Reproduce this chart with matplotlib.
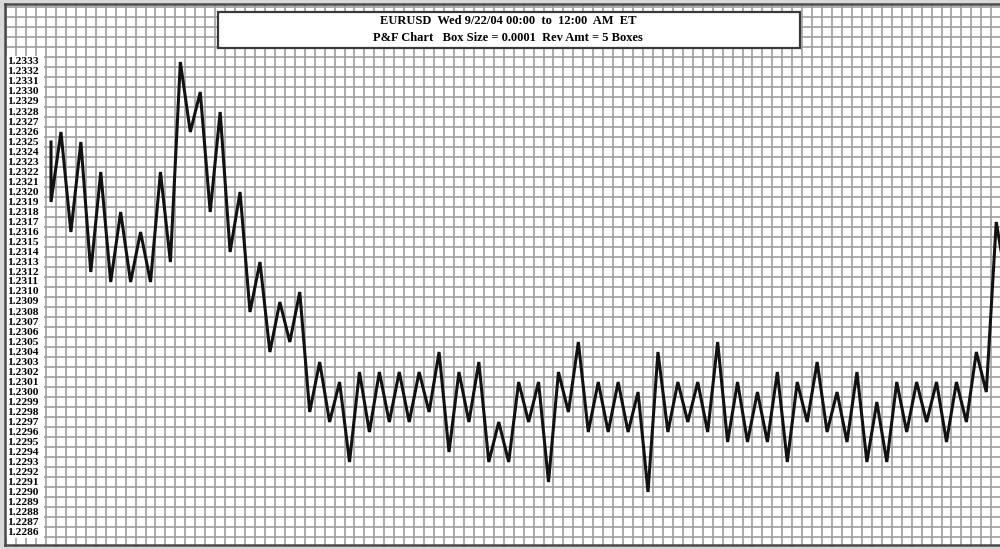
import matplotlib
matplotlib.use('Agg')
import matplotlib.pyplot as plt
from matplotlib.patches import Rectangle
import numpy as np


########## Data ##########
title_lines = ['EURUSD  Wed 9/22/04 00:00  to  12:00  AM  ET',
               'P&F Chart   Box Size = 0.0001  Rev Amt = 5 Boxes']

box_size = 0.0001
start_price = 1.2325  # first column starts here
# column extremes, one per column (the last one is cut off by the right edge)
pivots = [1.2319, 1.2326, 1.2316, 1.2325, 1.2312, 1.2322, 1.2311, 1.2318, 1.2311, 1.2316,
          1.2311, 1.2322, 1.2313, 1.2333, 1.2326, 1.2330, 1.2318, 1.2328, 1.2314, 1.2320,
          1.2308, 1.2313, 1.2304, 1.2309, 1.2305, 1.2310, 1.2298, 1.2303, 1.2297, 1.2301,
          1.2293, 1.2302, 1.2296, 1.2302, 1.2297, 1.2302, 1.2297, 1.2302, 1.2298, 1.2304,
          1.2294, 1.2302, 1.2297, 1.2303, 1.2293, 1.2297, 1.2293, 1.2301, 1.2297, 1.2301,
          1.2291, 1.2302, 1.2298, 1.2305, 1.2296, 1.2301, 1.2296, 1.2301, 1.2296, 1.2300,
          1.2290, 1.2304, 1.2296, 1.2301, 1.2297, 1.2301, 1.2296, 1.2305, 1.2295, 1.2301,
          1.2295, 1.2300, 1.2295, 1.2302, 1.2293, 1.2301, 1.2297, 1.2303, 1.2296, 1.2300,
          1.2295, 1.2302, 1.2293, 1.2299, 1.2293, 1.2301, 1.2296, 1.2301, 1.2297, 1.2301,
          1.2295, 1.2301, 1.2297, 1.2304, 1.2300, 1.2317, 1.2311]

price_labels = np.round(np.arange(1.2286, 1.23331, box_size), 4)


########## Layout (pixels of the 1000x549 picture) ##########
W, H = 1000, 549
col0_px, col_step_px = 51, 9.95      # pixel x of column 0 and column spacing
top_price_px, box_px = 62, 10        # pixel y of 1.2333 and box height
frame_l, frame_t, frame_b, frame_r = 5, 4, 545, 1060

def px_to_col(px):
    return (px - col0_px) / col_step_px

def py_to_price(py):
    return price_labels[-1] - (py - top_price_px) / box_px * box_size


fig = plt.figure(figsize=(W / 100, H / 100), dpi=100, facecolor='#d9d9d9')
ax = fig.add_axes([frame_l / W, 1 - frame_b / H, (frame_r - frame_l) / W, (frame_b - frame_t) / H])
ax.set_facecolor('white')

# grid lines sit between boxes / columns
xg = np.arange(np.floor(px_to_col(frame_l)) - 0.5, px_to_col(frame_r) + 1, 1)
yg = np.arange(price_labels[0] - 6 * box_size, price_labels[-1] + 8 * box_size, box_size) + box_size / 2
ax.set_xticks(xg, minor=True)
ax.set_yticks(yg, minor=True)
ax.set_xticks([])
ax.set_yticks([])
ax.grid(which='minor', color='#9e9e9e', lw=1.2)
ax.tick_params(which='both', length=0, labelleft=False, labelbottom=False)
ax.set_axisbelow(True)

# white strip behind the price labels, then the labels themselves
ax.add_patch(Rectangle((px_to_col(6), price_labels[0] - box_size * 0.6),
                       px_to_col(44) - px_to_col(6),
                       price_labels[-1] - price_labels[0] + box_size * 1.2,
                       facecolor='white', edgecolor='none', zorder=1.5))
for p in price_labels:
    ax.text(px_to_col(7.5), p, f'{p:.4f}', ha='left', va='center',
            family='Liberation Serif', fontweight='bold', fontsize=8.2, zorder=4)

for s in ax.spines.values():
    s.set_color('#4a4a4a')
    s.set_linewidth(1.8)

# P&F line: first column starts at start_price, then one column per pivot
xs = [0] + list(range(len(pivots)))
ys = [start_price] + pivots
ax.plot(xs, ys, color='#111111', lw=2.2, solid_joinstyle='miter', zorder=3)

# limits last, so the tick setup cannot widen them
ax.set_xlim(px_to_col(frame_l), px_to_col(frame_r))
ax.set_ylim(py_to_price(frame_b), py_to_price(frame_t))

# title box
fig.patches.append(Rectangle((218 / W, 1 - 48 / H), (800 - 218) / W, 36 / H,
                             transform=fig.transFigure, facecolor='white',
                             edgecolor='#3a3a3a', lw=1.6, zorder=5))
fig.text(508 / W, 1 - 21.5 / H, title_lines[0], ha='center', va='center',
         family='Liberation Serif', fontweight='bold', fontsize=9, zorder=6)
fig.text(508 / W, 1 - 38 / H, title_lines[1], ha='center', va='center',
         family='Liberation Serif', fontweight='bold', fontsize=9, zorder=6)

fig.savefig('out.png', dpi=100, facecolor=fig.get_facecolor())
